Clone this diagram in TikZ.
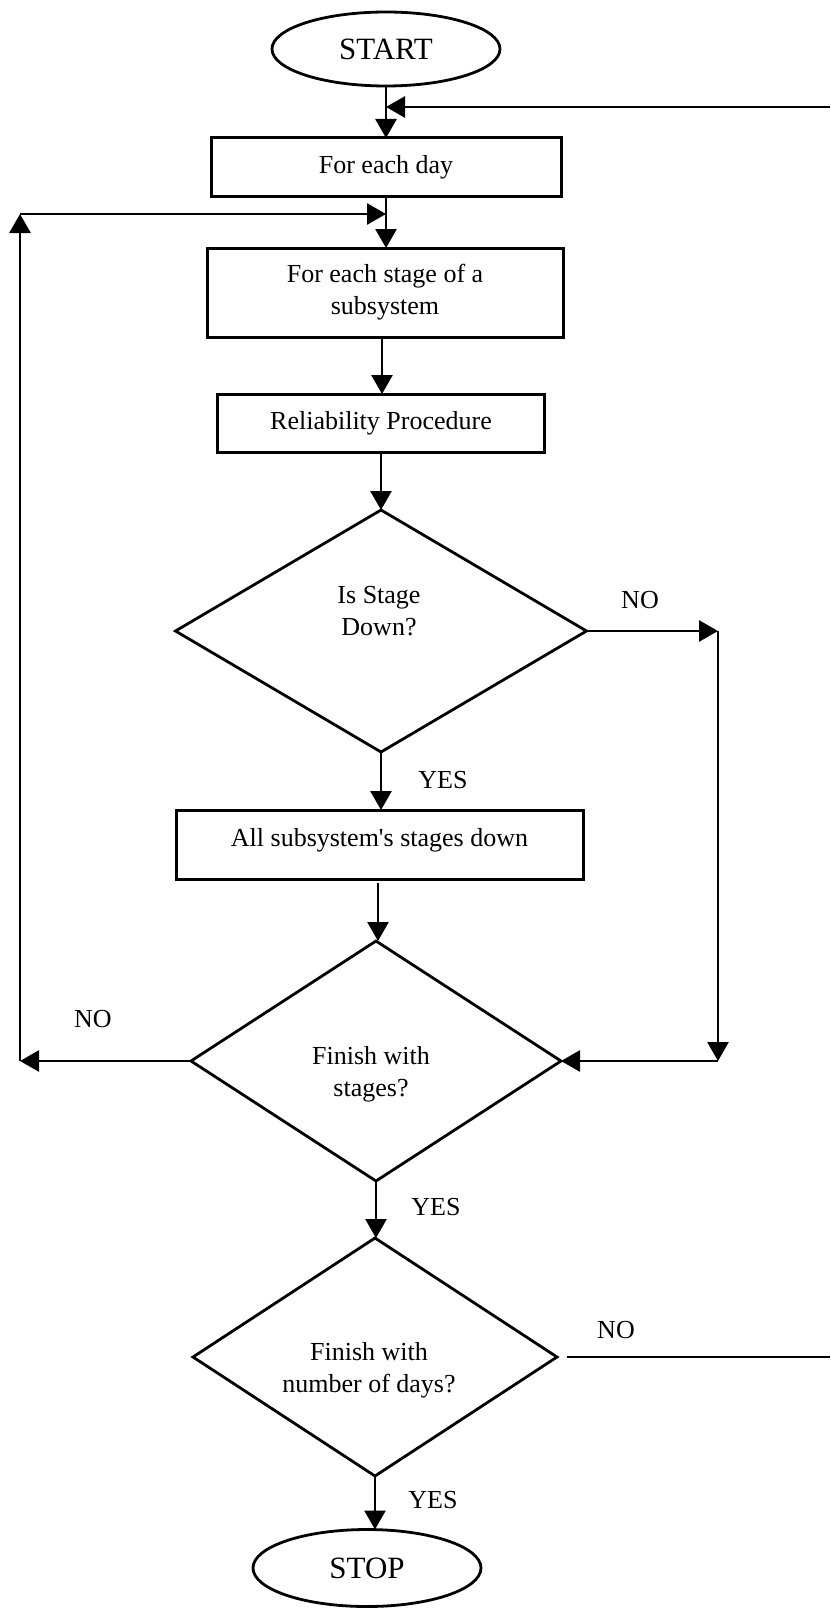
\documentclass[tikz,border=0pt]{standalone}
\usepackage{fontspec}
\setmainfont{Liberation Serif}
\usetikzlibrary{shapes.geometric,arrows.meta,calc}
\begin{document}
\begin{tikzpicture}[x=1pt,y=-1pt,
  every node/.style={font=\fontsize{26}{32}\selectfont, inner sep=0pt, outer sep=0pt},
  terminal/.style={draw, ellipse, line width=2.8pt, font=\fontsize{31}{36}\selectfont},
  procbox/.style={draw, rectangle, line width=3pt, align=center},
  decision/.style={draw, diamond, line width=2.8pt},
  qtext/.style={align=center},
  flow/.style={line width=2.8pt, -{Triangle[length=19pt,width=21pt]}},
  wire/.style={line width=2.8pt},
]
\useasboundingbox (0,0) rectangle (830,1608);

% terminals and process boxes
\node[terminal, minimum width=228, minimum height=74] (start) at (386,49) {START};
\node[procbox, minimum width=350, minimum height=59] (day) at (386,167.5) {For each day};
\node[procbox, minimum width=356, minimum height=89] (stage) at (385,292.5) {For each stage of a\\subsystem};
\node[procbox, minimum width=327, minimum height=58] (rel) at (381,423) {Reliability Procedure};

% first decision
\node[decision, minimum width=411, minimum height=242] (d1) at (381,631) {};
\node[qtext] (d1t) at (379,611) {Is Stage\\Down?};

% all stages down
\node[procbox, minimum width=407, minimum height=69] (all) at (379.5,844.5) {};
\node (allt) at (379.5,840) {All subsystem\textquotesingle s stages down};

% second decision
\node[decision, minimum width=370, minimum height=240] (d2) at (376,1061) {};
\node[qtext] (d2t) at (371,1074) {Finish with\\stages?};

% third decision
\node[decision, minimum width=364, minimum height=238] (d3) at (375,1357) {};
\node[qtext] (d3t) at (369,1370) {Finish with\\number of days?};

\node[terminal, minimum width=228, minimum height=77] (stop) at (367,1568) {STOP};

% branch labels
\node (no1) at (640,600) {NO};
\node (yes1) at (443,780) {YES};
\node (no2) at (93,1019) {NO};
\node (yes2) at (436,1207) {YES};
\node (no3) at (616,1330) {NO};
\node (yes3) at (433,1500) {YES};

% helper points of the loops
\coordinate (inR) at (830,107);
\coordinate (loopT) at (20,214);
\coordinate (skip) at (718,0);
\coordinate (outR) at (830,1357);

% main flow
\draw[flow] (start.south) -- (start.south |- day.north);
\draw[flow] (inR) -- (inR -| start.south);
\draw[flow] (day.south) -- (day.south |- stage.north);
\draw[flow] ($(stage.south)+(-3,0)$) -- ($(stage.south |- rel.north)+(-3,0)$);
\draw[flow] (rel.south) -- (rel.south |- d1.north);
\draw[flow] (d1.south) -- (d1.south |- all.north);
\draw[flow] ($(all.south)+(-1.5,4)$) -- ($(all.south |- d2.north)+(-1.5,0)$);
\draw[flow] (d2.south) -- (d2.south |- d3.north);
\draw[flow] (d3.south) -- (d3.south |- stop.north);

% NO branch of the first decision
\draw[flow] (d1.east) -- (d1.east -| skip);
\draw[flow] (d1.east -| skip) -- (d2.east -| skip);
\draw[flow] (d2.east -| skip) -- (d2.east);

% NO branch of the second decision: back to the next stage
\draw[flow] (d2.west) -- (d2.west -| loopT);
\draw[flow] (d2.west -| loopT) -- (loopT);
\draw[flow] (loopT) -- (loopT -| day.south);

% NO branch of the third decision: back to the next day
\draw[wire, shorten <=10pt] (d3.east) -- (d3.east -| outR);
\end{tikzpicture}
\end{document}
